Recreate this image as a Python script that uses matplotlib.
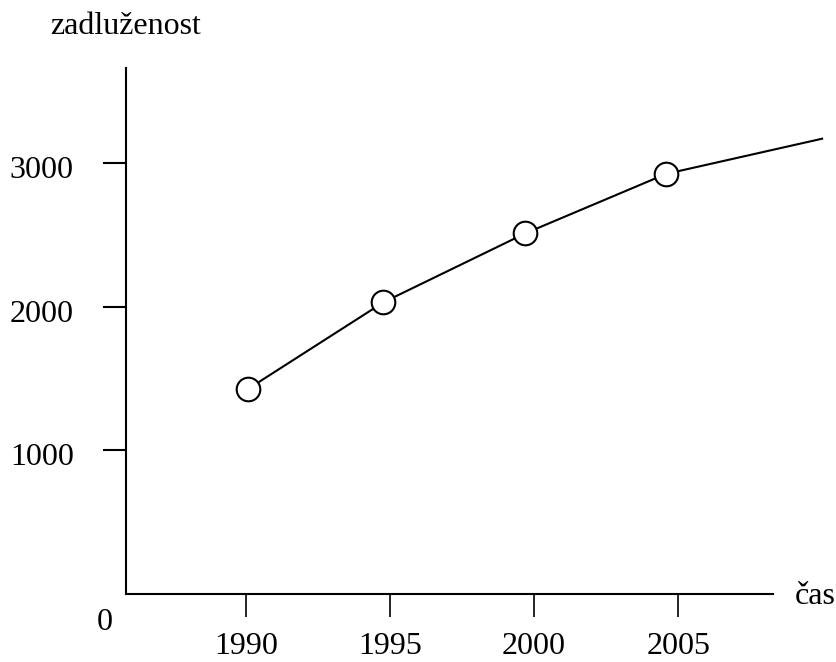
"""Debt over time: a hand-drawn style line chart with open circle markers."""

import matplotlib

matplotlib.use("Agg")
import matplotlib.pyplot as plt
from matplotlib.transforms import ScaledTranslation

# Data (years as drawn, debt values).
marker_years = [1990.07, 1994.77, 1999.70, 2004.58]
marker_debt = [1427, 2030, 2510, 2923]
tail_year = 2010.0  # the line runs on past the last circle
tail_debt = 3168

x_ticks = [1990, 1995, 2000, 2005]
y_ticks = [1000, 2000, 3000]

plt.rcParams["font.family"] = ["Liberation Serif", "DejaVu Serif"]
fs = 23

fig = plt.figure(figsize=(8.37, 6.62), dpi=100)
W, H = 837, 662
# axes box in pixel terms: left 126, right 823, top 68, bottom 594
ax = fig.add_axes((126 / W, (H - 594) / H, (823 - 126) / W, (594 - 68) / H))

ax.set_xlim(1985.83, 2010.03)
ax.set_ylim(0, 3660)

for side in ("top", "right"):
    ax.spines[side].set_visible(False)
for side in ("left", "bottom"):
    ax.spines[side].set_linewidth(1.5)
ax.spines["bottom"].set_bounds(1985.83, 2008.3)

ax.set_xticks(x_ticks)
ax.set_yticks(y_ticks)
ax.tick_params(axis="x", direction="out", length=16.5, width=1.2, pad=11, labelsize=fs)
ax.tick_params(axis="y", direction="out", length=16.5, width=1.5, pad=21, labelsize=fs)
# the y labels sit a touch below their ticks in the reference
shift = ScaledTranslation(0, -4 / 100, fig.dpi_scale_trans)
for lab in ax.get_yticklabels():
    lab.set_transform(lab.get_transform() + shift)

line_x = marker_years + [tail_year]
line_y = marker_debt + [tail_debt]
ax.plot(line_x, line_y, color="black", lw=1.5, clip_on=False, zorder=2)
ax.plot(
    marker_years,
    marker_debt,
    ls="none",
    marker="o",
    ms=17,
    mfc="white",
    mec="black",
    mew=1.5,
    clip_on=False,
    zorder=3,
)

fig.text(50 / W, 1 - 26 / H, "zadluženost", fontsize=fs, ha="left", va="center")
fig.text(795 / W, 1 - 597 / H, "čas", fontsize=fs, ha="left", va="center")
fig.text(105 / W, 1 - 623 / H, "0", fontsize=fs, ha="center", va="center")

fig.savefig("out.png", dpi=100)
